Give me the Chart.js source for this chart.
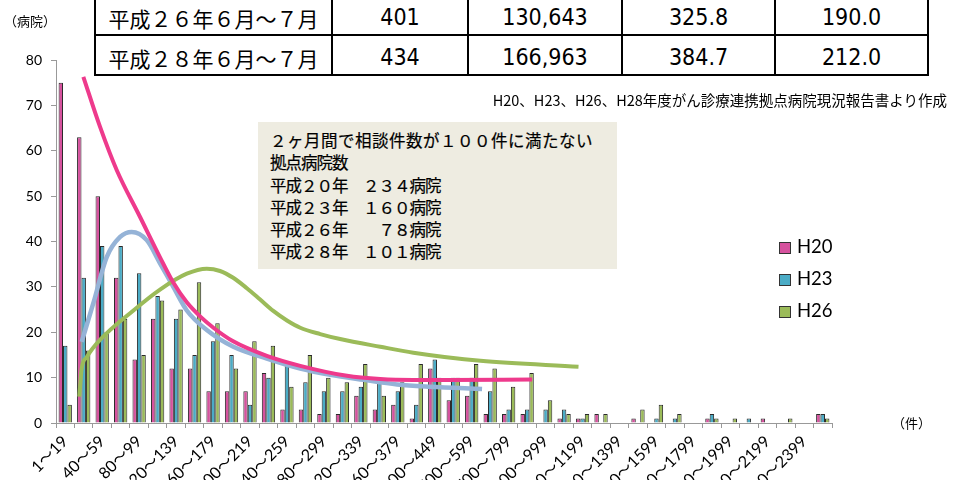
<!DOCTYPE html>
<html lang="ja">
<head>
<meta charset="utf-8">
<script src="https://cdn.jsdelivr.net/npm/chart.js@4/dist/chart.umd.min.js"></script>
<style>
  html, body { margin:0; padding:0; background:#fff; }
  #wrap { position:relative; width:962px; height:480px; overflow:hidden; background:#fff; }
  canvas { position:absolute; left:0; top:0; }
  #c { z-index:0; }
  #c2 { z-index:1; }
  .ov { position:absolute; z-index:2; color:#000; white-space:pre; }
  #tbl { position:absolute; z-index:3; left:94px; top:-6px; border-collapse:collapse; table-layout:fixed; background:#fff; }
  #tbl td { border:2px solid #000; padding:0; text-align:center; vertical-align:middle; }
  #tbl td.p { font-family:"Noto Sans CJK JP", sans-serif; font-size:21px; font-feature-settings:"fwid"; padding-top:5px; }
  #tbl td.n { font-family:"Liberation Sans Narrow", "DejaVu Sans Condensed", sans-serif; font-stretch:condensed; font-size:23px; padding-top:4px; }
  #box { position:absolute; z-index:2; left:258px; top:122px; width:347px; height:140px; padding:7px 0 0 12px; background:#EEECE1;
         font-family:"Noto Sans CJK JP", sans-serif; font-size:16.5px; line-height:22.3px; font-feature-settings:"fwid";
         -webkit-text-stroke:0.2px #000; }
  #box div { white-space:pre; letter-spacing:-1px; }
  #box div.first { letter-spacing:0.5px; }
  #legend { position:absolute; z-index:2; left:779px; top:236px; font-family:Lato, sans-serif; font-size:18.5px; }
  #legend .it { position:relative; height:32px; }
  #legend .sw { position:absolute; left:0; top:6px; width:10px; height:10px; border:1px solid #333; }
  #legend .tx { position:absolute; left:18px; top:-1px; }
</style>
</head>
<body>
<div id="wrap">
  <canvas id="c" width="962" height="480"></canvas>
  <canvas id="c2" width="962" height="480"></canvas>
  <table id="tbl"><colgroup><col style="width:237px"><col style="width:136px"><col style="width:154px"><col style="width:153px"><col style="width:153px"></colgroup><tbody id="tb"></tbody></table>
  <div class="ov" id="note" style="right:15px;top:89px;font-family:'Noto Sans CJK JP',sans-serif;font-size:14.5px;">H20、H23、H26、H28年度がん診療連携拠点病院現況報告書より作成</div>
  <div class="ov" style="left:4px;top:11px;font-family:'Noto Sans CJK JP',sans-serif;font-size:13px;">（病院）</div>
  <div class="ov" style="left:892px;top:413px;font-family:'Noto Sans CJK JP',sans-serif;font-size:13px;">（件）</div>
  <div id="box"></div>
  <div id="legend"></div>
</div>
<script>
// ---- data ----
const categories = ["1～19","20～39","40～59","60～79","80～99","100～119","120～139","140～159","160～179","180～199",
  "200～219","220～239","240～259","260～279","280～299","300～319","320～339","340～359","360～379","380～399",
  "400～449","450～499","500～599","600～699","700～799","800～899","900～999","1000～1099","1100～1199","1200～1299",
  "1300～1399","1400～1499","1500～1599","1600～1699","1700～1799","1800～1899","1900～1999","2000～2099","2100～2199","2200～2299",
  "2300～2399","2400～"];
const seriesNames = ["H20", "H23", "H26"];
const h20 = [75,63,50,32,14,23,12,12,7,7, 7,11,3,3,2,2,6,3,4,1, 12,5,6,2,2,2,0,1,1,2, 0,1,0,0,0,1,0,0,1,0, 0,2];
const h23 = [17,32,39,39,33,28,23,15,18,15, 4,10,13,9,7,7,8,9,7,4, 14,10,10,7,3,3,3,3,1,0, 0,0,1,1,0,2,0,1,0,0, 0,2];
const h26 = [4,16,20,23,15,27,25,31,22,12, 18,17,8,15,10,9,13,6,9,13, 10,10,13,12,8,11,5,2,2,2, 0,3,4,2,0,1,1,0,0,1, 0,1];
const yTicks = [0,10,20,30,40,50,60,70,80];

// hand-drawn trend curves (position in category units, value)
const h20CurveX = [0.98,1.88,2.79,4.05,5.13,5.84,6.58,7.30,8.02,9.09,10.91,12.72,15.25,17.05,18.84,20.66,25.27];
const h20CurveY = [76.3,65.3,55.7,45.4,36.5,31.0,26.6,23.5,21.0,18.0,14.8,12.6,10.4,9.7,9.5,9.5,9.6];
const h23CurveX = [0.89,1.52,2.25,2.97,3.60,4.41,5.13,5.85,6.58,7.66,9.10,10.91,12.72,14.34,16.15,17.96,19.76,22.56];
const h23CurveY = [17.9,26.4,36.6,41.0,42.1,40.3,35.2,30.0,24.8,20.5,16.8,14.2,12.0,10.6,9.5,8.5,8.0,7.5];
const h26CurveX = [0.76,0.89,1.16,1.88,3.69,5.13,6.58,7.66,8.38,9.09,9.83,10.55,11.26,12.00,12.72,13.80,14.88,17.05,18.84,22.47,27.78];
const h26CurveY = [5.8,12.0,14.5,18.3,24.8,29.4,32.9,34.0,33.5,32.0,29.7,27.2,24.7,22.6,21.0,19.6,18.5,16.8,15.5,13.7,12.4];

// table & annotation text
const tablePeriods = ["平成26年6月～7月", "平成28年6月～7月"];
const tableHospitals = ["401", "434"];
const tableConsults = ["130,643", "166,963"];
const tableMean = ["325.8", "384.7"];
const tableMedian = ["190.0", "212.0"];
const boxLines = ["2ヶ月間で相談件数が100件に満たない", "拠点病院数", "平成20年　234病院", "平成23年　160病院", "平成26年　　78病院", "平成28年　101病院"];

// ---- styles ----
const barColors = ["#D6529E", "#4BACC6", "#9BBB59"];
const curveColors = ["#EE3A8C", "#95B3D7", "#9BBB59"];

// ---- overlays ----
const tb = document.getElementById('tb');
tablePeriods.forEach((p, i) => {
  const tr = document.createElement('tr');
  tr.style.height = '40px';
  [[p,'p'],[tableHospitals[i],'n'],[tableConsults[i],'n'],[tableMean[i],'n'],[tableMedian[i],'n']].forEach(([t,c]) => {
    const td = document.createElement('td'); td.className = c; td.textContent = t; tr.appendChild(td);
  });
  tb.appendChild(tr);
});
const box = document.getElementById('box');
boxLines.forEach((t, i) => {
  const d = document.createElement('div'); if (i === 0) d.className = 'first'; d.textContent = t; box.appendChild(d);
});
const lg = document.getElementById('legend');
seriesNames.forEach((n, i) => {
  const it = document.createElement('div'); it.className = 'it';
  it.innerHTML = '<div class="sw" style="background:' + barColors[i] + '"></div><div class="tx">' + n + '</div>';
  lg.appendChild(it);
});

// ---- bar chart ----
const bar = (i, vals) => ({
  label: seriesNames[i],
  data: vals.map(v => v === 0 ? null : v),
  backgroundColor: barColors[i], borderColor: '#2a2a2a', borderWidth: 1,
  categoryPercentage: 0.72, barPercentage: 1.0
});

new Chart(document.getElementById('c'), {
  type: 'bar',
  data: { labels: categories, datasets: [bar(0, h20), bar(1, h23), bar(2, h26)] },
  options: {
    responsive: false,
    animation: false,
    devicePixelRatio: 1,
    layout: { padding: { left: 0, right: 130, top: 60, bottom: 0 } },
    plugins: { legend: { display: false }, tooltip: { enabled: false } },
    scales: {
      x: {
        type: 'category', offset: true,
        grid: { display: true, drawOnChartArea: false, offset: true, tickLength: 5, color: '#999' },
        border: { display: true, color: '#999' },
        ticks: {
          autoSkip: false, minRotation: 45, maxRotation: 45, color: '#000', padding: 4,
          font: { family: "Lato, 'Noto Sans CJK JP', sans-serif", size: 16 },
          callback: (v, i) => (i % 2 === 0 ? categories[i] : '')
        },
        afterFit: (s) => { s.height = 57; }
      },
      y: {
        min: 0, max: 80,
        afterBuildTicks: (s) => { s.ticks = yTicks.map(v => ({ value: v })); },
        grid: { display: true, drawOnChartArea: false, tickLength: 5, color: '#999' },
        border: { display: true, color: '#999' },
        ticks: { color: '#000', padding: 9, font: { family: "Lato, sans-serif", size: 14 } },
        afterFit: (s) => { s.width = 56; }
      }
    }
  }
});

// ---- trend curves (same plot area, continuous x in category units) ----
const pts = (xs, ys) => xs.map((x, i) => ({ x: x, y: ys[i] }));
const curve = (lbl, xs, ys, col, w) => ({
  label: lbl, data: pts(xs, ys),
  borderColor: col, backgroundColor: col, borderWidth: w, pointRadius: 0, fill: false,
  cubicInterpolationMode: 'monotone'
});
new Chart(document.getElementById('c2'), {
  type: 'line',
  data: {
    datasets: [
      curve('H20曲線', h20CurveX, h20CurveY, curveColors[0], 4),
      curve('H26曲線', h26CurveX, h26CurveY, curveColors[2], 4),
      curve('H23曲線', h23CurveX, h23CurveY, curveColors[1], 4.5)
    ]
  },
  options: {
    responsive: false,
    animation: false,
    devicePixelRatio: 1,
    layout: { padding: { left: 56, right: 130, top: 60, bottom: 57 } },
    plugins: { legend: { display: false }, tooltip: { enabled: false } },
    scales: {
      x: { type: 'linear', display: false, offset: false, min: -0.5, max: categories.length - 0.5 },
      y: { type: 'linear', display: false, min: 0, max: 80 }
    }
  }
});
</script>
</body>
</html>
